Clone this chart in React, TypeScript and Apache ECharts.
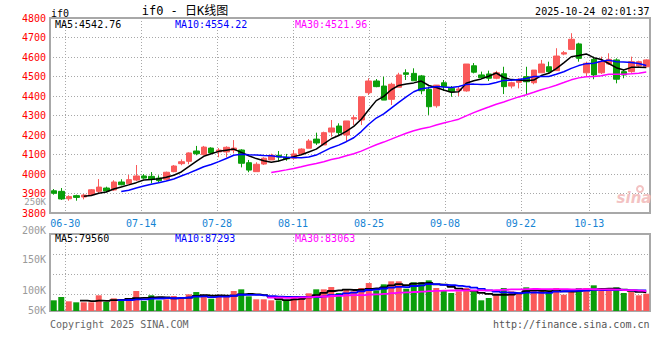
import React, { useEffect, useRef } from 'react';
import * as echarts from 'echarts';

// ---------- data ----------
const dates = [
  '06-26', '06-27', '06-30',
  '07-01', '07-02', '07-03', '07-04', '07-07', '07-08', '07-09', '07-10', '07-11', '07-14', '07-15', '07-16', '07-17', '07-18', '07-21', '07-22', '07-23', '07-24', '07-25', '07-28', '07-29', '07-30', '07-31',
  '08-01', '08-04', '08-05', '08-06', '08-07', '08-08', '08-11', '08-12', '08-13', '08-14', '08-15', '08-18', '08-19', '08-20', '08-21', '08-22', '08-25', '08-26', '08-27', '08-28', '08-29',
  '09-01', '09-02', '09-03', '09-04', '09-05', '09-08', '09-09', '09-10', '09-11', '09-12', '09-15', '09-16', '09-17', '09-18', '09-19', '09-22', '09-23', '09-24', '09-25', '09-26', '09-29', '09-30',
  '10-09', '10-10', '10-13', '10-14', '10-15', '10-16', '10-17', '10-20', '10-21', '10-22', '10-23',
];

const opens = [
  3914, 3911, 3873, 3889, 3882, 3894, 3911, 3928, 3918, 3959,
  3950, 3969, 3990, 3988, 3979, 3973, 4012, 4053, 4065, 4118,
  4099, 4133, 4113, 4113, 4122, 4123, 4058, 4012, 4051, 4072,
  4096, 4086, 4081, 4103, 4132, 4179, 4149, 4215, 4246, 4200,
  4282, 4277, 4417, 4477, 4451, 4383, 4445, 4519, 4516, 4503,
  4434, 4350, 4468, 4440, 4429, 4426, 4555, 4508, 4513, 4491,
  4514, 4451, 4470, 4499, 4468, 4519, 4550, 4530, 4615, 4639,
  4667, 4519, 4588, 4519, 4564, 4585, 4525, 4525, 4554, 4550,
];
const closes = [
  3901, 3872, 3884, 3880, 3892, 3919, 3933, 3913, 3959, 3945,
  3971, 3990, 3979, 3973, 3966, 4009, 4041, 4063, 4108, 4104,
  4138, 4108, 4123, 4137, 4133, 4055, 4020, 4050, 4081, 4096,
  4087, 4078, 4103, 4128, 4169, 4159, 4212, 4236, 4212, 4272,
  4289, 4396, 4477, 4448, 4379, 4460, 4508, 4511, 4478, 4427,
  4345, 4456, 4448, 4422, 4436, 4564, 4522, 4494, 4491, 4519,
  4448, 4468, 4486, 4473, 4533, 4564, 4525, 4605, 4622, 4691,
  4593, 4568, 4508, 4576, 4588, 4486, 4508, 4576, 4576, 4585,
];
const lows = [
  3894, 3867, 3863, 3863, 3870, 3892, 3901, 3906, 3913, 3942,
  3947, 3964, 3973, 3952, 3955, 3969, 4009, 4045, 4050, 4096,
  4096, 4106, 4086, 4086, 4106, 4034, 4009, 4012, 4046, 4072,
  4063, 4068, 4075, 4103, 4132, 4149, 4149, 4191, 4200, 4169,
  4251, 4251, 4405, 4445, 4379, 4354, 4445, 4482, 4478, 4409,
  4303, 4340, 4426, 4396, 4400, 4422, 4516, 4491, 4477, 4486,
  4410, 4439, 4439, 4405, 4460, 4519, 4519, 4530, 4609, 4639,
  4576, 4499, 4486, 4513, 4559, 4465, 4491, 4519, 4550, 4547,
];
const highs = [
  3923, 3928, 3891, 3894, 3897, 3923, 3974, 3935, 3968, 3973,
  3995, 4046, 4000, 4010, 3993, 4012, 4046, 4075, 4111, 4144,
  4144, 4137, 4133, 4142, 4174, 4127, 4072, 4060, 4086, 4104,
  4118, 4103, 4123, 4132, 4179, 4212, 4217, 4277, 4260, 4272,
  4303, 4396, 4491, 4487, 4499, 4468, 4519, 4537, 4542, 4508,
  4448, 4456, 4482, 4451, 4451, 4564, 4569, 4525, 4530, 4529,
  4550, 4473, 4491, 4550, 4533, 4585, 4576, 4645, 4631, 4722,
  4673, 4576, 4602, 4602, 4619, 4593, 4537, 4602, 4581, 4588,
];
const volumes = [
  45500, 59600, 41300, 37000, 37000, 37000, 66800, 38300, 54000, 42600,
  54000, 85100, 42600, 66800, 45500, 49800, 63800, 54000, 71100, 80800,
  66800, 52300, 62500, 62500, 85100, 92300, 62500, 49800, 49800, 45500,
  45500, 42600, 63800, 63800, 75300, 92300, 92300, 102100, 76600, 92300,
  83800, 97900, 119100, 88100, 113600, 126400, 126400, 94900, 122100, 122100,
  130600, 97900, 88100, 76600, 83800, 97900, 80800, 45500, 55300, 66800,
  97900, 83800, 73600, 100800, 85100, 85100, 80800, 97900, 69400, 80800,
  97900, 97900, 109400, 85100, 85100, 100800, 76600, 80800, 66800, 73600,
];

const dateTicks = ['06-30', '07-14', '07-28', '08-11', '08-25', '09-08', '09-22', '10-13'];
const volumeTickLabels = ['250K', '200K', '150K', '100K', '50K'];
const maNames = ['MA5', 'MA10', 'MA30'];
const maPeriods = [5, 10, 30];
const priceMaLast = ['4542.76', '4554.22', '4521.96'];
const volumeMaLast = ['79560', '87293', '83063'];
const symbolName = 'if0';
const chartTitle = 'if0 - 日K线图';
const stamp = '2025-10-24 02:01:37';
const copyright = 'Copyright 2025 SINA.COM';
const siteUrl = 'http://finance.sina.com.cn';

// ---------- styles ----------
const RED = '#fa5a5a';
const GREEN = '#0a9e0a';
const MA_COLORS = ['#000000', '#0000ff', '#ff00ff'];
const MONO = '"DejaVu Sans Mono", "Liberation Mono", monospace';
const GRID_LINE = { color: '#a8a8a8', width: 1, type: [1, 2] as any };

function movingAverage(arr: number[], n: number): (number | string)[] {
  return arr.map((_, i) => {
    if (i < n - 1) return '-';
    let s = 0;
    for (let k = i - n + 1; k <= i; k++) s += arr[k];
    return +(s / n).toFixed(2);
  });
}

function txt(text: string, x: number, y: number, fill: string, opts: any = {}) {
  const align = opts.align || 'left';
  return {
    type: 'text',
    x,
    y,
    silent: true,
    z: 100,
    style: {
      text,
      fill,
      font: opts.font || `10px ${MONO}`,
      lineHeight: opts.lineHeight || 9,
      textAlign: align,
      align,
      textVerticalAlign: 'middle',
      verticalAlign: 'middle',
    },
  };
}

export default function App() {
  const ref = useRef<HTMLDivElement>(null);

  useEffect(() => {
    if (!ref.current) return;
    const chart = echarts.init(ref.current, null, { renderer: 'svg' });

    const isTick = (_: number, v: string) => dateTicks.includes(v);
    const ohlc = opens.map((o, i) => [o, closes[i], lows[i], highs[i]]);

    const graphics: any[] = [];
    graphics.push(txt(symbolName, 51, 13, '#000'));
    graphics.push(txt(chartTitle, 185, 10.5, '#000', { align: 'center', font: `12px ${MONO}, "Noto Sans CJK SC"`, lineHeight: 12 }));
    graphics.push(txt(stamp, 649.5, 11, '#000', { align: 'right' }));
    maNames.forEach((n, k) => {
      graphics.push(txt(`${n}:${priceMaLast[k]}`, 55 + 120 * k, 24, MA_COLORS[k]));
      graphics.push(txt(`${n}:${volumeMaLast[k]}`, 55 + 120 * k, 238.5, MA_COLORS[k]));
    });
    const volLabelY = [202, 230, 259.5, 290.5, 310.7];
    volumeTickLabels.forEach((t, k) =>
      graphics.push(
        txt(t, 46, volLabelY[k], '#9a9a9a', {
          align: 'right',
          font: k === 0 ? `9px ${MONO}` : `10px ${MONO}`,
          lineHeight: k === 0 ? 8 : 9,
        })
      )
    );
    graphics.push(txt(copyright, 50, 324, '#666'));
    graphics.push(txt(siteUrl, 649.5, 324, '#555', { align: 'right' }));
    // watermark
    graphics.push({
      type: 'text', x: 634, y: 198, silent: true, z: 1,
      style: { text: 'sina', fill: '#f3c2c2', font: 'italic bold 15px "DejaVu Sans"', textAlign: 'center', align: 'center', textVerticalAlign: 'middle', verticalAlign: 'middle' },
    });
    graphics.push({
      type: 'ring', silent: true, z: 1,
      shape: { cx: 640, cy: 189, r: 4, r0: 2 },
      style: { fill: '#f3c2c2' },
    });

    const series: any[] = [
      {
        type: 'candlestick',
        xAxisIndex: 0,
        yAxisIndex: 0,
        data: ohlc,
        barWidth: 6,
        itemStyle: { color: RED, color0: GREEN, borderColor: RED, borderColor0: GREEN, borderWidth: 1 },
        z: 3,
      },
    ];
    maPeriods.forEach((p, k) => {
      series.push({
        type: 'line',
        xAxisIndex: 0,
        yAxisIndex: 0,
        data: movingAverage(closes, p),
        showSymbol: false,
        symbol: 'none',
        lineStyle: { color: MA_COLORS[k], width: 1.5 },
        z: 4,
      });
    });
    series.push({
      type: 'bar',
      xAxisIndex: 2,
      yAxisIndex: 1,
      barWidth: 6,
      data: volumes.map((v, i) => ({ value: v, itemStyle: { color: closes[i] >= opens[i] ? RED : GREEN } })),
      z: 3,
    });
    maPeriods.forEach((p, k) => {
      series.push({
        type: 'line',
        xAxisIndex: 2,
        yAxisIndex: 1,
        data: movingAverage(volumes, p),
        step: 'middle',
        showSymbol: false,
        symbol: 'none',
        lineStyle: { color: MA_COLORS[k], width: 1.8 },
        z: 4,
      });
    });

    const hiddenX = (gridIndex: number) => ({
      type: 'category',
      gridIndex,
      data: dates,
      boundaryGap: true,
      position: 'top',
      axisLine: { show: false },
      axisTick: { show: false },
      axisLabel: { show: false },
      splitLine: { show: false },
    });

    chart.setOption({
      animation: false,
      backgroundColor: '#ffffff',
      grid: [
        { left: 50, top: 18, width: 600, height: 195, show: true, borderColor: '#a8a8a8', borderWidth: 2 },
        { left: 50, top: 234, width: 600, height: 77, show: true, borderColor: '#a8a8a8', borderWidth: 2 },
      ],
      xAxis: [
        hiddenX(0),
        {
          type: 'category',
          gridIndex: 0,
          data: dates,
          boundaryGap: false,
          position: 'bottom',
          axisLine: { show: false },
          axisTick: { show: false },
          axisLabel: { interval: isTick, color: '#1584d4', fontFamily: MONO, fontSize: 10, margin: 5 },
          splitLine: { show: true, interval: isTick, lineStyle: GRID_LINE },
        },
        hiddenX(1),
        {
          type: 'category',
          gridIndex: 1,
          data: dates,
          boundaryGap: false,
          position: 'bottom',
          axisLine: { show: false },
          axisTick: { show: false },
          axisLabel: { show: false },
          splitLine: { show: true, interval: isTick, lineStyle: GRID_LINE },
        },
      ],
      yAxis: [
        {
          type: 'value',
          gridIndex: 0,
          min: 3800,
          max: 4800,
          interval: 100,
          axisLine: { show: false },
          axisTick: { show: false },
          axisLabel: {
            color: '#ff0000',
            fontFamily: MONO,
            fontSize: 10,
            lineHeight: 9,
            margin: 4,
            padding: [0, 0, 3, 0],
            formatter: (v: number) => String(v),
          },
          splitLine: { show: true, lineStyle: GRID_LINE },
        },
        {
          type: 'value',
          gridIndex: 1,
          min: 0,
          max: 328000,
          show: false,
          splitLine: { show: false },
        },
        {
          type: 'value',
          gridIndex: 1,
          min: 0,
          max: 77,
          interval: 20,
          inverse: true,
          axisLine: { show: false },
          axisTick: { show: false },
          axisLabel: { show: false },
          splitLine: { show: true, lineStyle: GRID_LINE },
        },
      ],
      graphic: graphics,
      series,
    });

    return () => chart.dispose();
  }, []);

  return (
    <div
      ref={ref}
      style={{ position: 'fixed', left: 0, top: 0, width: 660, height: 360, background: '#fff' }}
    />
  );
}
